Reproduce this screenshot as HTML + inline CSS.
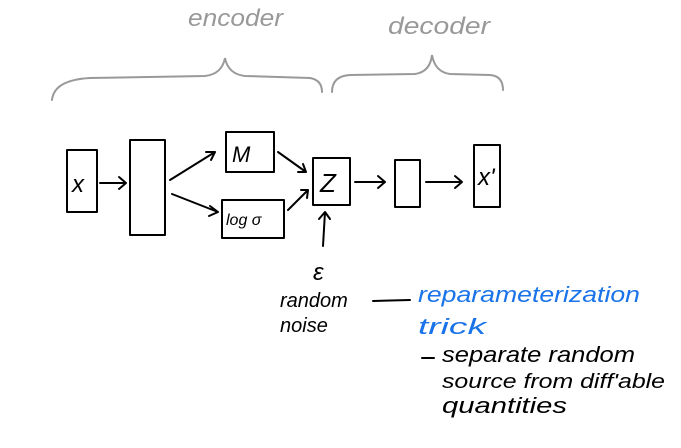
<!DOCTYPE html>
<html><head><style>
html,body{margin:0;padding:0;background:#fff;}
svg{display:block;}
text{font-family:"Liberation Sans",sans-serif;}
</style></head><body>
<svg width="681" height="448" viewBox="0 0 681 448" xmlns="http://www.w3.org/2000/svg">
<g fill="none" stroke="#999" stroke-width="2" stroke-linecap="round">
<path d="M52 100 Q54 80 90 78 L205 76 Q222 74 225 58 Q228 74 245 76 L310 78 Q322 80 322 92"/>
<path d="M332 92 Q332 76 350 75 L415 74 Q430 72 432 55 Q435 72 450 74 L490 75 Q503 76 503 90"/>
</g>
<text x="188" y="26" fill="#999" font-size="24" font-style="italic" textLength="95" lengthAdjust="spacingAndGlyphs">encoder</text>
<text x="388" y="34" fill="#999" font-size="24" font-style="italic" textLength="102" lengthAdjust="spacingAndGlyphs">decoder</text>
<g fill="none" stroke="#000" stroke-width="2" stroke-linecap="round" stroke-linejoin="round">
<rect x="67" y="150" width="30" height="62"/>
<rect x="130" y="140" width="35" height="95"/>
<rect x="226" y="132" width="48" height="40"/>
<rect x="222" y="200" width="62" height="38"/>
<rect x="313" y="158" width="37" height="47"/>
<rect x="395" y="160" width="25" height="47"/>
<rect x="474" y="145" width="26" height="62"/>
<path d="M100 183 L126 183 M119 177 L126 183 L119 189"/>
<path d="M170 180 L215 152 M206 152 L215 152 L211 160"/>
<path d="M172 194 L218 212 M210 206 L218 212 L209 216"/>
<path d="M278 152 L306 172 M298 172 L306 172 L303 164"/>
<path d="M288 210 L308 190 M301 190 L308 190 L307 198"/>
<path d="M355 182 L385 182 M378 176 L385 182 L378 188"/>
<path d="M426 182 L462 182 M455 176 L462 182 L455 188"/>
<path d="M323 246 L325 212 M319 219 L325 212 L330 219"/>
<path d="M373 301 L410 300"/>
<path d="M422 358 L434 358"/>
</g>
<g fill="#000" font-style="italic">
<text x="72" y="192" font-size="24">x</text>
<text x="232" y="162" font-size="22">M</text>
<text x="226" y="225" font-size="16">log σ</text>
<text x="320" y="192" font-size="26">Z</text>
<text x="478" y="185" font-size="24">x'</text>
<text x="313" y="280" font-size="24">ε</text>
<text x="280" y="307" font-size="20">random</text>
<text x="280" y="332" font-size="20">noise</text>
<text x="442" y="362" font-size="22" textLength="193" lengthAdjust="spacingAndGlyphs">separate random</text>
<text x="442" y="388" font-size="20" textLength="223" lengthAdjust="spacingAndGlyphs">source from diff'able</text>
<text x="442" y="413" font-size="22" textLength="125" lengthAdjust="spacingAndGlyphs">quantities</text>
</g>
<text x="418" y="302" fill="#1a73e8" font-size="22" font-style="italic" textLength="222" lengthAdjust="spacingAndGlyphs">reparameterization</text>
<text x="418" y="334" fill="#1a73e8" font-size="22" font-style="italic" textLength="68" lengthAdjust="spacingAndGlyphs">trick</text>
</svg>
</body></html>
